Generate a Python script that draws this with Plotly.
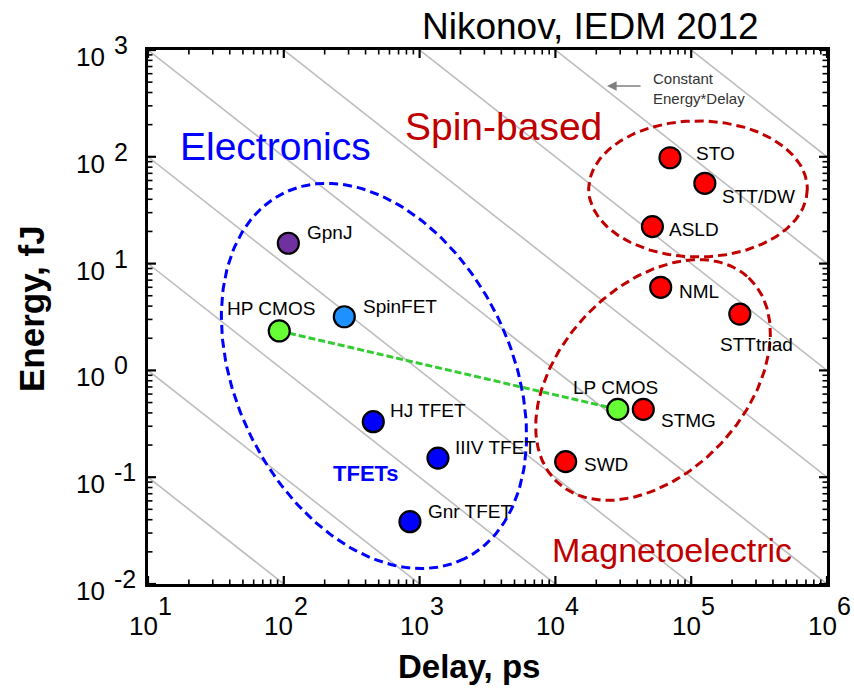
import numpy as np
import plotly.graph_objects as go

# ---- device benchmark data (delay in ps, switching energy in fJ) ----
devices = ["HP CMOS", "LP CMOS", "GpnJ", "SpinFET", "HJ TFET", "IIIV TFET",
           "Gnr TFET", "SWD", "STMG", "NML", "STTtriad", "STO", "STT/DW", "ASLD"]
delay_ps = [92.6, 28800, 108, 279, 456, 1365,
            849, 11900, 44400, 59600, 228000, 69800, 126000, 51800]
energy_fj = [2.34, 0.432, 15.5, 3.18, 0.331, 0.151,
             0.0383, 0.140, 0.432, 6.0, 3.37, 98, 56.5, 22.2]

# constant energy*delay guide lines (fJ*ps)
ed_products = [1e0, 1e1, 1e2, 1e3, 1e4, 1e5, 1e6, 1e7, 1e8, 1e9]

# axis decades
x_exponents = [1, 2, 3, 4, 5, 6]
y_exponents = [-2, -1, 0, 1, 2, 3]

# ---- styling ----
fill_colors = {
    "HP CMOS": "#66FF33", "LP CMOS": "#66FF33", "GpnJ": "#7030A0",
    "SpinFET": "#1E90FF", "HJ TFET": "#0000FF", "IIIV TFET": "#0000FF",
    "Gnr TFET": "#0000FF",
}
SPIN_RED = "#FF0000"
DARK_RED = "#C00000"

# label placement: (anchor, xshift px, yshift px)
label_place = {
    "HP CMOS": ("center", -8, 22), "LP CMOS": ("center", -2, 22),
    "GpnJ": ("left", 17, 11), "SpinFET": ("left", 17, 10),
    "HJ TFET": ("left", 15, 11), "IIIV TFET": ("left", 15, 11),
    "Gnr TFET": ("left", 16, 10), "SWD": ("left", 16, -3),
    "STMG": ("left", 16, -11), "NML": ("left", 16, -4),
    "STTtriad": ("center", 17, -30), "STO": ("left", 24, 4),
    "STT/DW": ("left", 15, -13), "ASLD": ("left", 15, -3),
}

# grouping ellipses: center (log10 delay, log10 energy), semi-axes in x-decades, tilt (deg, screen)
groups = [
    dict(cx=2.664, cy=-0.052, a=1.502, b=1.009, rot=63.6, color="#0000FF"),
    dict(cx=5.050, cy=1.699, a=0.805, b=0.501, rot=0.0, color=DARK_RED),
    dict(cx=4.719, cy=-0.090, a=1.031, b=0.685, rot=-46.9, color=DARK_RED),
]

W, H = 854, 693
M = dict(l=148, r=27, t=50, b=109)
X_RANGE = [1, 6]
Y_RANGE = [-2, 3]
px_x = (W - M["l"] - M["r"]) / (X_RANGE[1] - X_RANGE[0])
px_y = (H - M["t"] - M["b"]) / (Y_RANGE[1] - Y_RANGE[0])

FONT = "Arial, Liberation Sans, sans-serif"

fig = go.Figure()

# constant energy*delay lines
x_line = np.array([10.0 ** X_RANGE[0], 10.0 ** X_RANGE[1]])
for p in ed_products:
    fig.add_trace(go.Scatter(x=x_line, y=p / x_line, mode="lines",
                             line=dict(color="#BDBDBD", width=1.6),
                             hoverinfo="skip", showlegend=False))


def ellipse(cx, cy, a, b, rot, n=240):
    t = np.linspace(0, 2 * np.pi, n)
    th = np.radians(rot)
    dx = a * np.cos(t) * np.cos(th) - b * np.sin(t) * np.sin(th)
    dy = a * np.cos(t) * np.sin(th) + b * np.sin(t) * np.cos(th)
    return 10 ** (cx + dx), 10 ** (cy - dy * px_x / px_y)


for g in groups:
    ex, ey = ellipse(g["cx"], g["cy"], g["a"], g["b"], g["rot"])
    fig.add_trace(go.Scatter(x=ex, y=ey, mode="lines",
                             line=dict(color=g["color"], width=3, dash="9px,5px"),
                             hoverinfo="skip", showlegend=False))

# CMOS scaling line (HP -> LP)
i_hp, i_lp = devices.index("HP CMOS"), devices.index("LP CMOS")
fig.add_trace(go.Scatter(x=[delay_ps[i_hp], delay_ps[i_lp]],
                         y=[energy_fj[i_hp], energy_fj[i_lp]], mode="lines",
                         line=dict(color="#33CC33", width=3, dash="7px,3px"),
                         hoverinfo="skip", showlegend=False))

# device markers
fig.add_trace(go.Scatter(
    x=delay_ps, y=energy_fj, mode="markers", text=devices,
    marker=dict(size=21, color=[fill_colors.get(d, SPIN_RED) for d in devices],
                line=dict(color="black", width=2.2)),
    hovertemplate="%{text}<br>%{x} ps, %{y} fJ<extra></extra>", showlegend=False))


# inward tick marks on all four sides (lengths in pixels)
def tick_segments(major, minor_len_px, major_len_px):
    xs, ys = [], []
    for e in range(X_RANGE[0], X_RANGE[1] + 1):
        mults = [1] if e == X_RANGE[1] else range(1, 10)
        for m in mults:
            lx = e + np.log10(m)
            L = (major_len_px if m == 1 else minor_len_px) / px_y
            if (m == 1) != major:
                continue
            xs += [10 ** lx, 10 ** lx, None, 10 ** lx, 10 ** lx, None]
            ys += [10 ** Y_RANGE[0], 10 ** (Y_RANGE[0] + L), None,
                   10 ** Y_RANGE[1], 10 ** (Y_RANGE[1] - L), None]
    for e in range(Y_RANGE[0], Y_RANGE[1] + 1):
        mults = [1] if e == Y_RANGE[1] else range(1, 10)
        for m in mults:
            ly = e + np.log10(m)
            L = (major_len_px if m == 1 else minor_len_px) / px_x
            if (m == 1) != major:
                continue
            ys += [10 ** ly, 10 ** ly, None, 10 ** ly, 10 ** ly, None]
            xs += [10 ** X_RANGE[0], 10 ** (X_RANGE[0] + L), None,
                   10 ** X_RANGE[1], 10 ** (X_RANGE[1] - L), None]
    return xs, ys


for major, width in [(True, 2.2), (False, 1.6)]:
    tx, ty = tick_segments(major, 4.5, 8)
    fig.add_trace(go.Scatter(x=tx, y=ty, mode="lines", connectgaps=False,
                             line=dict(color="black", width=width),
                             hoverinfo="skip", showlegend=False))

annotations = []
for d, xv, yv in zip(devices, delay_ps, energy_fj):
    anchor, xs, ys = label_place[d]
    annotations.append(dict(x=np.log10(xv), y=np.log10(yv), text=d, showarrow=False,
                            xanchor=anchor, yanchor="middle", xshift=xs, yshift=ys,
                            font=dict(family=FONT, size=19, color="black")))

# tick labels as 10 with raised exponent
for k in x_exponents:
    annotations.append(dict(x=k, y=0, xref="x", yref="y domain", text="10",
                            showarrow=False, xanchor="center", yanchor="middle",
                            xshift=-5, yshift=-42,
                            font=dict(family=FONT, size=26, color="black")))
    annotations.append(dict(x=k, y=0, xref="x", yref="y domain", text=str(k),
                            showarrow=False, xanchor="left", yanchor="middle",
                            xshift=8, yshift=-22,
                            font=dict(family=FONT, size=25, color="black")))
for k in y_exponents:
    annotations.append(dict(x=0, y=k, xref="x domain", yref="y", text="10",
                            showarrow=False, xanchor="right", yanchor="middle",
                            xshift=-41, yshift=-7,
                            font=dict(family=FONT, size=26, color="black")))
    annotations.append(dict(x=0, y=k, xref="x domain", yref="y", text=str(k),
                            showarrow=False, xanchor="left", yanchor="middle",
                            xshift=-36, yshift=5,
                            font=dict(family=FONT, size=25, color="black")))

# axis titles
annotations.append(dict(x=0.5, y=0, xref="paper", yref="paper", text="<b>Delay, ps</b>",
                        showarrow=False, xanchor="center", yanchor="middle",
                        xshift=-19, yshift=-82,
                        font=dict(family=FONT, size=33, color="black")))
annotations.append(dict(x=0, y=0.5, xref="paper", yref="paper", text="<b>Energy, fJ</b>",
                        showarrow=False, textangle=-90, xanchor="center", yanchor="middle",
                        xshift=-117, yshift=8,
                        font=dict(family=FONT, size=35, color="black")))

# header and group names
annotations += [
    dict(x=1, y=1, xref="paper", yref="paper", text="Nikonov, IEDM 2012",
         showarrow=False, xanchor="right", yanchor="middle", xshift=-66, yshift=24,
         font=dict(family=FONT, size=37, color="black")),
    dict(x=0, y=1, xref="paper", yref="paper", text="Electronics",
         showarrow=False, xanchor="center", yanchor="middle", xshift=127, yshift=-96,
         font=dict(family=FONT, size=39, color="#0000FF")),
    dict(x=0, y=1, xref="paper", yref="paper", text="Spin-based",
         showarrow=False, xanchor="center", yanchor="middle", xshift=355, yshift=-76,
         font=dict(family=FONT, size=39, color=DARK_RED)),
    dict(x=1, y=0, xref="paper", yref="paper", text="Magnetoelectric",
         showarrow=False, xanchor="center", yanchor="middle", xshift=-155, yshift=34,
         font=dict(family=FONT, size=34, color=DARK_RED)),
    dict(x=0, y=0, xref="paper", yref="paper", text="<b>TFETs</b>",
         showarrow=False, xanchor="center", yanchor="middle", xshift=218, yshift=111,
         font=dict(family=FONT, size=22, color="#0000FF")),
    dict(x=1, y=1, xref="paper", yref="paper", text="Constant<br>Energy*Delay",
         showarrow=False, xanchor="left", yanchor="top", align="left",
         xshift=-176, yshift=-18,
         font=dict(family=FONT, size=15, color="#333333")),
    dict(x=4.380, y=2.663, xref="x", yref="y", text="", showarrow=True,
         ax=35, ay=0, arrowhead=2, arrowsize=1.2, arrowwidth=1.6, arrowcolor="#808080"),
]

axis_common = dict(
    type="log", showgrid=False, zeroline=False, showline=True, linecolor="black",
    linewidth=2.5, mirror=True, ticks="", showticklabels=False,
)

fig.update_layout(
    width=W, height=H, margin=M, plot_bgcolor="white", paper_bgcolor="white",
    xaxis=dict(range=X_RANGE, **axis_common),
    yaxis=dict(range=Y_RANGE, **axis_common),
    annotations=annotations, showlegend=False,
)

fig.write_html("out.html")
